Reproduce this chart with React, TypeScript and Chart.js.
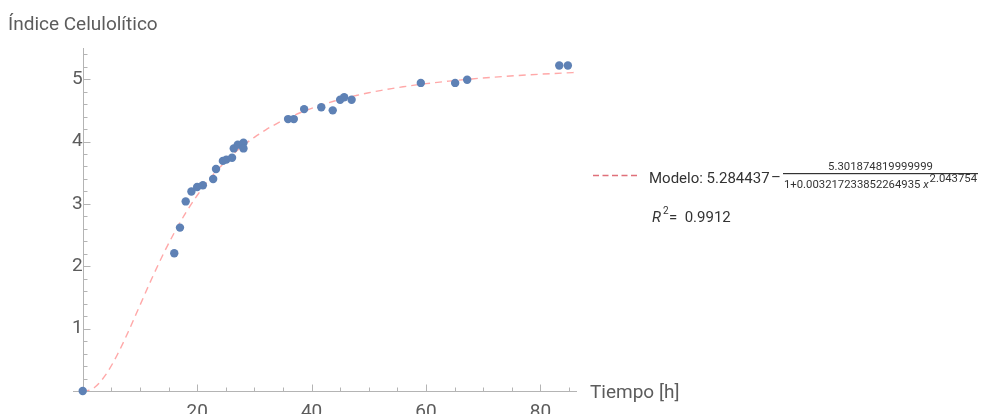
import React, { useEffect, useRef } from "react";
import { Chart, registerables } from "chart.js";

Chart.register(...registerables);

// Measured data: time [h] vs cellulolytic index
const timeHours = [0, 16.0, 17.0, 18.0, 19.0, 20.0, 21.0, 22.8, 23.3, 24.5, 25.1, 26.1, 26.4, 27.1, 28.1, 28.1, 35.9, 36.9, 38.7, 41.7, 43.7, 45.0, 45.7, 47.0, 59.1, 65.1, 67.2, 83.3, 84.8];
const indexValues = [0, 2.21, 2.62, 3.04, 3.2, 3.27, 3.3, 3.4, 3.56, 3.69, 3.71, 3.74, 3.89, 3.95, 3.98, 3.89, 4.36, 4.36, 4.52, 4.55, 4.5, 4.67, 4.71, 4.67, 4.94, 4.94, 4.99, 5.22, 5.22];

// Fitted model curve
const modelTime = [0, 2, 4, 6, 8, 10, 12, 14, 16, 18, 20, 22, 24, 26, 28, 30, 32, 34, 36, 38, 40, 42, 44, 46, 48, 50, 52, 54, 56, 58, 60, 64, 68, 72, 76, 80, 84, 86.4];
const modelValues = [-0.017, 0.052, 0.258, 0.573, 0.958, 1.374, 1.788, 2.18, 2.537, 2.856, 3.135, 3.379, 3.59, 3.773, 3.931, 4.068, 4.188, 4.292, 4.382, 4.462, 4.532, 4.594, 4.65, 4.699, 4.742, 4.782, 4.817, 4.849, 4.878, 4.904, 4.928, 4.969, 5.004, 5.033, 5.058, 5.08, 5.099, 5.109];

// Tick marks
const xTickValues = [5, 10, 15, 20, 25, 30, 35, 40, 45, 50, 55, 60, 65, 70, 75, 80, 85];
const xTickLabels = ["", "", "", "20", "", "", "", "40", "", "", "", "60", "", "", "", "80", ""];
const yTickValues = [0.2, 0.4, 0.6, 0.8, 1, 1.2, 1.4, 1.6, 1.8, 2, 2.2, 2.4, 2.6, 2.8, 3, 3.2, 3.4, 3.6, 3.8, 4, 4.2, 4.4, 4.6, 4.8, 5, 5.2, 5.4];
const yTickLabels = ["", "", "", "", "1", "", "", "", "", "2", "", "", "", "", "3", "", "", "", "", "4", "", "", "", "", "5", "", ""];

const yTitle = "Índice Celulolítico";
const xTitle = "Tiempo [h]";
const legendModel = "Modelo: 5.284437";
const legendNumerator = "5.301874819999999";
const legendDenominator = "1+0.003217233852264935";
const legendExponent = "2.043754";
const legendR2 = "0.9912";

const AXIS_COLOR = "#b4b4b4";
const TEXT_COLOR = "#5c5c5c";
const LEGEND_TEXT = "#333333";
const POINT_COLOR = "#5e81b5";
const CURVE_COLOR = "rgba(255, 110, 110, 0.6)";
const FONT = "Roboto, 'Liberation Sans', sans-serif";

const annotate = {
  id: "annotate",
  beforeDatasetsDraw(chart: any) {
    const { ctx, chartArea, scales } = chart;
    const x = scales.x;
    const y = scales.y;
    const x0 = Math.round(x.getPixelForValue(0)) + 0.5;
    const y0 = Math.round(y.getPixelForValue(0)) + 0.5;
    ctx.save();
    ctx.strokeStyle = AXIS_COLOR;
    ctx.lineWidth = 1;
    ctx.beginPath();
    ctx.moveTo(chartArea.left, y0);
    ctx.lineTo(chartArea.right, y0);
    ctx.moveTo(x0, chartArea.top);
    ctx.lineTo(x0, y0);
    xTickValues.forEach((v, i) => {
      const px = Math.round(x.getPixelForValue(v)) + 0.5;
      const len = xTickLabels[i] ? 7 : 4;
      ctx.moveTo(px, y0);
      ctx.lineTo(px, y0 - len);
    });
    yTickValues.forEach((v, i) => {
      const py = Math.round(y.getPixelForValue(v)) + 0.5;
      const len = yTickLabels[i] ? 7 : 4;
      ctx.moveTo(x0, py);
      ctx.lineTo(x0 + len, py);
    });
    ctx.stroke();
    ctx.restore();
  },
  afterDraw(chart: any) {
    const { ctx } = chart;
    ctx.save();
    ctx.textBaseline = "alphabetic";
    ctx.textAlign = "left";
    // axis titles
    ctx.fillStyle = TEXT_COLOR;
    ctx.font = `19px ${FONT}`;
    ctx.fillText(yTitle, 8, 30);
    ctx.fillText(xTitle, 590, 398);

    // legend dashes
    ctx.strokeStyle = "#e0707a";
    ctx.lineWidth = 1.3;
    ctx.setLineDash([6, 3.5]);
    ctx.beginPath();
    ctx.moveTo(593, 175.5);
    ctx.lineTo(638, 175.5);
    ctx.stroke();
    ctx.setLineDash([]);

    ctx.fillStyle = LEGEND_TEXT;
    ctx.font = `15px ${FONT}`;
    ctx.fillText(legendModel, 649, 183);
    ctx.fillText("–", 771, 182);
    // fraction bar
    ctx.fillRect(783, 173, 195, 1.2);

    // numerator, fitted to its width in the reference
    ctx.font = `12px ${FONT}`;
    const nw = ctx.measureText(legendNumerator).width;
    const nSize = (12 * 105) / nw;
    ctx.font = `${nSize.toFixed(2)}px ${FONT}`;
    ctx.textAlign = "center";
    ctx.fillText(legendNumerator, 880.5, 170);
    ctx.textAlign = "left";

    // denominator, fitted to the fraction width
    ctx.font = `12px ${FONT}`;
    const dw0 = ctx.measureText(legendDenominator).width;
    ctx.font = `italic 12px ${FONT}`;
    const xw0 = ctx.measureText("x").width;
    ctx.font = `12px ${FONT}`;
    const ew0 = ctx.measureText(legendExponent).width;
    const total0 = dw0 + 3 + xw0 + 1 + ew0;
    const k = 193 / total0;
    const dSize = 12 * k;
    ctx.font = `${dSize.toFixed(2)}px ${FONT}`;
    ctx.fillText(legendDenominator, 784, 188);
    const dw = ctx.measureText(legendDenominator).width;
    ctx.font = `italic ${dSize.toFixed(2)}px ${FONT}`;
    ctx.fillText("x", 784 + dw + 3 * k, 188);
    const xw = ctx.measureText("x").width;
    ctx.font = `${dSize.toFixed(2)}px ${FONT}`;
    ctx.fillText(legendExponent, 784 + dw + 3 * k + xw + k, 182);

    // R^2
    ctx.font = `italic 15px ${FONT}`;
    ctx.fillText("R", 652, 222);
    ctx.font = `10px ${FONT}`;
    ctx.fillText("2", 663, 214);
    ctx.font = `15px ${FONT}`;
    ctx.fillText("=  " + legendR2, 669, 222);
    ctx.restore();
  },
};

export default function App() {
  const canvasRef = useRef<HTMLCanvasElement | null>(null);

  useEffect(() => {
    const canvas = canvasRef.current;
    if (!canvas) return;
    const chart = new Chart(canvas, {
      type: "scatter",
      data: {
        datasets: [
          {
            label: "Modelo",
            data: modelTime.map((t, i) => ({ x: t, y: modelValues[i] })),
            showLine: true,
            borderColor: CURVE_COLOR,
            borderWidth: 1.4,
            borderDash: [7, 5],
            pointRadius: 0,
            cubicInterpolationMode: "monotone",
            fill: false,
            order: 2,
          },
          {
            label: "Datos",
            data: timeHours.map((t, i) => ({ x: t, y: indexValues[i] })),
            showLine: false,
            backgroundColor: POINT_COLOR,
            borderColor: POINT_COLOR,
            borderWidth: 0,
            pointRadius: 4.2,
            clip: false as any,
            order: 1,
          },
        ],
      },
      options: {
        responsive: false,
        animation: false,
        events: [],
        layout: { padding: { left: 73, right: 405, top: 48, bottom: 23 } },
        plugins: { legend: { display: false }, tooltip: { enabled: false } },
        scales: {
          x: {
            type: "linear",
            min: -1.7,
            max: 86.4,
            position: { y: 0 } as any,
            grid: { display: false, drawTicks: false },
            border: { display: false },
            afterBuildTicks: (scale: any) => {
              scale.ticks = xTickValues.map((v) => ({ value: v }));
            },
            ticks: {
              autoSkip: false,
              maxRotation: 0,
              padding: 10,
              color: TEXT_COLOR,
              font: { family: FONT, size: 19 },
              callback: (_v: any, i: number) => xTickLabels[i],
            },
          },
          y: {
            type: "linear",
            min: 0,
            max: 5.5,
            position: { x: 0 } as any,
            grid: { display: false, drawTicks: false },
            border: { display: false },
            afterBuildTicks: (scale: any) => {
              scale.ticks = yTickValues.map((v) => ({ value: v }));
            },
            ticks: {
              autoSkip: false,
              padding: 9,
              color: TEXT_COLOR,
              font: { family: FONT, size: 19 },
              callback: (_v: any, i: number) => yTickLabels[i],
            },
          },
        },
      },
      plugins: [annotate],
    });
    return () => chart.destroy();
  }, []);

  return (
    <div style={{ position: "fixed", left: 0, top: 0, width: 982, height: 414, background: "#ffffff" }}>
      <canvas ref={canvasRef} width={982} height={414} style={{ display: "block" }} />
    </div>
  );
}
